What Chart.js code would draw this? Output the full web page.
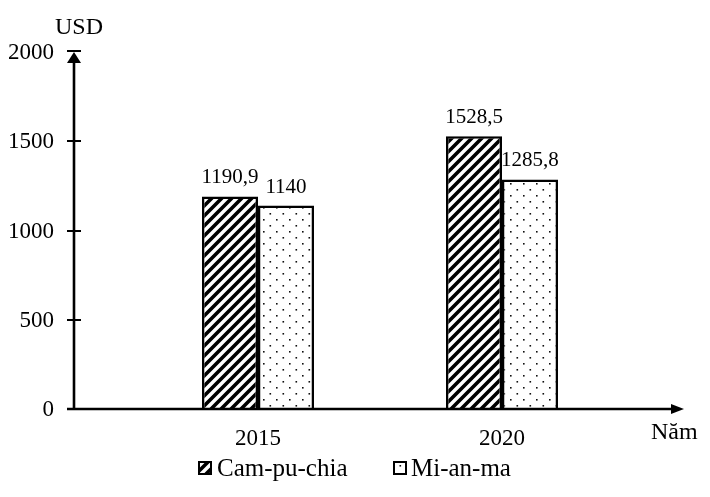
<!DOCTYPE html>
<html>
<head>
<meta charset="utf-8">
<script src="https://cdn.jsdelivr.net/npm/chart.js@4.4.1/dist/chart.umd.min.js"></script>
<style>
  html, body { margin: 0; padding: 0; background: #fff; }
  #wrap { width: 710px; height: 497px; }
</style>
</head>
<body>
<div id="wrap"><canvas id="c" width="710" height="497"></canvas></div>
<script>
const categories = ['2015', '2020'];
const seriesNames = ['Cam-pu-chia', 'Mi-an-ma'];
const camValues = [1190.9, 1528.5];
const myaValues = [1140, 1285.8];
const valueLabels = [['1190,9', '1528,5'], ['1140', '1285,8']];
const yTicks = [0, 500, 1000, 1500, 2000];
const yUnit = 'USD';
const xUnit = 'Năm';

const FONT = '"Liberation Serif", serif';

function hatchPattern() {
  const t = document.createElement('canvas');
  t.width = 10; t.height = 10;
  const g = t.getContext('2d');
  g.fillStyle = '#fff'; g.fillRect(0, 0, 10, 10);
  g.strokeStyle = '#000'; g.lineWidth = 3.6;
  g.beginPath();
  g.moveTo(-5, 5); g.lineTo(5, -5);
  g.moveTo(0, 10); g.lineTo(10, 0);
  g.moveTo(5, 15); g.lineTo(15, 5);
  g.stroke();
  return g.createPattern(t, 'repeat');
}
function dotPattern() {
  const t = document.createElement('canvas');
  t.width = 13; t.height = 12;
  const g = t.getContext('2d');
  g.fillStyle = '#fff'; g.fillRect(0, 0, 13, 12);
  g.fillStyle = '#111';
  g.fillRect(3, 3, 1.6, 1.6);
  g.fillRect(9.5, 9, 1.6, 1.6);
  return g.createPattern(t, 'repeat');
}

const hatch = hatchPattern();
const dots = dotPattern();

const decor = {
  id: 'decor',
  afterDraw(chart) {
    const ctx = chart.ctx;
    const y = chart.scales.y;
    const x = chart.scales.x;
    const axX = 74;
    const y0 = y.getPixelForValue(0);
    ctx.save();
    ctx.strokeStyle = '#000';
    ctx.fillStyle = '#000';
    ctx.lineWidth = 2.6;
    ctx.beginPath();
    ctx.moveTo(axX, y0 + 1); ctx.lineTo(axX, y.getPixelForValue(2000) + 8);
    ctx.stroke();
    ctx.beginPath();
    ctx.moveTo(67, y0); ctx.lineTo(676, y0);
    ctx.stroke();
    ctx.beginPath();
    ctx.moveTo(684, y0); ctx.lineTo(671, y0 - 5); ctx.lineTo(671, y0 + 5); ctx.closePath();
    ctx.fill();
    ctx.lineWidth = 2;
    yTicks.forEach(v => {
      if (v === 0) return;
      const py = Math.round(y.getPixelForValue(v)) + (v === 2000 ? -1 : 0);
      ctx.beginPath(); ctx.moveTo(67, py); ctx.lineTo(81, py); ctx.stroke();
    });
    const top = y.getPixelForValue(2000);
    ctx.beginPath();
    ctx.moveTo(axX, top); ctx.lineTo(axX - 7, top + 11); ctx.lineTo(axX + 7, top + 11); ctx.closePath();
    ctx.fill();

    ctx.font = '23px ' + FONT;
    ctx.textAlign = 'right'; ctx.textBaseline = 'middle';
    yTicks.forEach(v => {
      ctx.fillText(String(v), 54, y.getPixelForValue(v) + 1);
    });
    ctx.textAlign = 'center';
    categories.forEach((c, i) => {
      ctx.fillText(c, x.getPixelForValue(i), 439);
    });
    ctx.font = '24px ' + FONT;
    ctx.textAlign = 'left';
    ctx.fillText(yUnit, 55, 28);
    ctx.fillText(xUnit, 651, 433);

    ctx.font = '21px ' + FONT;
    ctx.textAlign = 'center'; ctx.textBaseline = 'alphabetic';
    chart.data.datasets.forEach((ds, di) => {
      const meta = chart.getDatasetMeta(di);
      meta.data.forEach((bar, i) => {
        ctx.fillText(valueLabels[di][i], bar.x, bar.y - 13);
      });
    });

    const legend = [{x: 199, label: seriesNames[0], fill: hatch, tx: 217},
                    {x: 394, label: seriesNames[1], fill: dots, tx: 411}];
    ctx.font = '25px ' + FONT;
    ctx.textBaseline = 'middle'; ctx.textAlign = 'left';
    legend.forEach(l => {
      ctx.fillStyle = l.fill;
      ctx.fillRect(l.x, 462, 12, 12);
      ctx.lineWidth = 2; ctx.strokeStyle = '#000';
      ctx.strokeRect(l.x, 462, 12, 12);
      ctx.fillStyle = '#000';
      ctx.fillText(l.label, l.tx, 469);
    });
    ctx.restore();
  }
};

new Chart(document.getElementById('c'), {
  type: 'bar',
  data: {
    labels: categories,
    datasets: [
      { label: seriesNames[0], data: camValues, backgroundColor: hatch, borderColor: '#000', borderWidth: 2.5 },
      { label: seriesNames[1], data: myaValues, backgroundColor: dots, borderColor: '#000', borderWidth: 2.5 }
    ]
  },
  options: {
    responsive: false,
    animation: false,
    layout: { padding: { left: 136, right: 86, top: 52, bottom: 88 } },
    categoryPercentage: 0.459,
    barPercentage: 1,
    plugins: { legend: { display: false }, tooltip: { enabled: false } },
    scales: {
      x: { display: false, offset: true },
      y: { display: false, min: 0, max: 2000, ticks: { stepSize: 500 } }
    }
  },
  plugins: [decor]
});
</script>
</body>
</html>
